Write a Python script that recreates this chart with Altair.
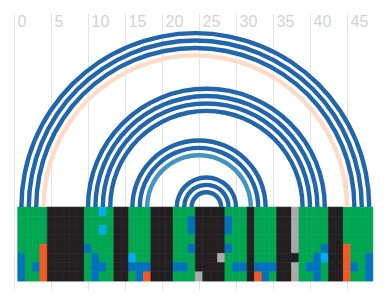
import altair as alt
import pandas as pd

# x-axis tick labels
tick_values = [0, 5, 10, 15, 20, 25, 30, 35, 40, 45]

# arcs: paired positions and a category
arc_start = [1, 2, 3, 4, 10, 11, 12, 13, 16, 17, 18, 22, 23, 24]
arc_end = [48, 47, 46, 45, 42, 41, 40, 39, 34, 33, 32, 30, 29, 28]
arc_level = ["high", "high", "high", "low", "high", "high", "high", "high",
             "high", "high", "mid", "high", "high", "high"]
arc_levels = ["high", "mid", "low"]
arc_colors = ["#2166ac", "#4393c3", "#fddbc7"]

# heatmap rows (one code per position 1..48)
heat_rows = [
    "GGGGKKKKKGGCGKKGGGKKKGGGKKKKGGGKGGGKKYGGGGKKGGGG",
    "GGGGKKKKKGGGGKKGGGKKKGGBKKKKBGGKGGGKKYGGGGKKGGGG",
    "GGGGKKKKKGGCGKKGGGKKKGGBKKKKBGGKGGGKKYGGGGKKGGGG",
    "GGGGKKKKKGGGGKKGGGKKKGGGKKKKGGGKGGGKKYGGGGKKGGGG",
    "GGGOKKKKKBGGGKKGGGKKKGGBKKKKBGGKGGGKKYGGGBKKOGGG",
    "BGGOKKKKKGBGGKKCGGKKKGGGKKKYGGGKGGGKKKGGBCKKOGGB",
    "BGBOKKKKKGBBGKKBBBKKKBBGKKKKGBBKBBBKKYGBBGKKOBGB",
    "BGGOKKKKKGBGGKKGBOKKKGGGYKKKGGGKOBGKKYGGBGKKOGGB",
]
heat_codes = ["G", "K", "B", "C", "O", "Y"]
heat_colors = ["#00a651", "#231f20", "#0072bc", "#00aeef", "#f15a24", "#aaaaaa"]

arcs = pd.DataFrame({"start": arc_start, "end": arc_end, "level": arc_level})
heat = pd.DataFrame(
    [{"row": r, "pos": c + 1, "code": ch}
     for r, s in enumerate(heat_rows) for c, ch in enumerate(s)]
)

xscale = alt.Scale(domain=[0, 50], nice=False, zero=False)
yscale = alt.Scale(domain=[-11.2, 26.2], nice=False, zero=False)
xaxis = alt.Axis(orient="top", values=tick_values, grid=True, gridColor="#e4e4e4",
                 gridWidth=1, domain=False, ticks=False, tickSize=0,
                 labelAlign="left", labelBaseline="alphabetic", labelPadding=-13.7,
                 labelOffset=3, labelFontSize=16, labelColor="#d2d2d2",
                 labelFont="Liberation Sans", labelFlush=False, title=None)

heat_scale = alt.Scale(domain=heat_codes, range=heat_colors)
heat_layer = alt.Chart(heat).transform_calculate(
    x1="datum.pos - 0.5", x2="datum.pos + 0.5",
    y1="-datum.row * 1.25", y2="-(datum.row + 1) * 1.25"
).mark_rect(strokeWidth=0.6).encode(
    x=alt.X("x1:Q", scale=xscale, axis=xaxis),
    x2="x2:Q",
    y=alt.Y("y1:Q", scale=yscale, axis=None),
    y2="y2:Q",
    color=alt.Color("code:N", scale=heat_scale, legend=None),
    stroke=alt.Stroke("code:N", scale=heat_scale, legend=None),
)

arc_layer = alt.Chart(arcs).transform_calculate(
    center="(datum.start + datum.end) / 2", r="(datum.end - datum.start) / 2", base="0"
).mark_arc(radiusOffset=2.2, radius2Offset=-2.2, theta=4.71238898, theta2=7.85398163).encode(
    x=alt.X("center:Q", scale=xscale, axis=xaxis),
    y=alt.Y("base:Q", scale=yscale, axis=None),
    radius=alt.Radius("r:Q", scale=alt.Scale(type="linear", domain=[0, 50], range=[0, 370], zero=True)),
    radius2=alt.Radius2("r:Q"),
    color=alt.Color("level:N", scale=alt.Scale(domain=arc_levels, range=arc_colors), legend=None),
)

chart = alt.layer(heat_layer, arc_layer).resolve_scale(color="independent").properties(
    width=370, height=277, autosize="none",
    padding={"left": 14, "top": 13, "right": 0, "bottom": 10},
    background="white",
).configure_view(stroke=None)

chart.save("out.html", embed_options={"renderer": "svg", "actions": False})
